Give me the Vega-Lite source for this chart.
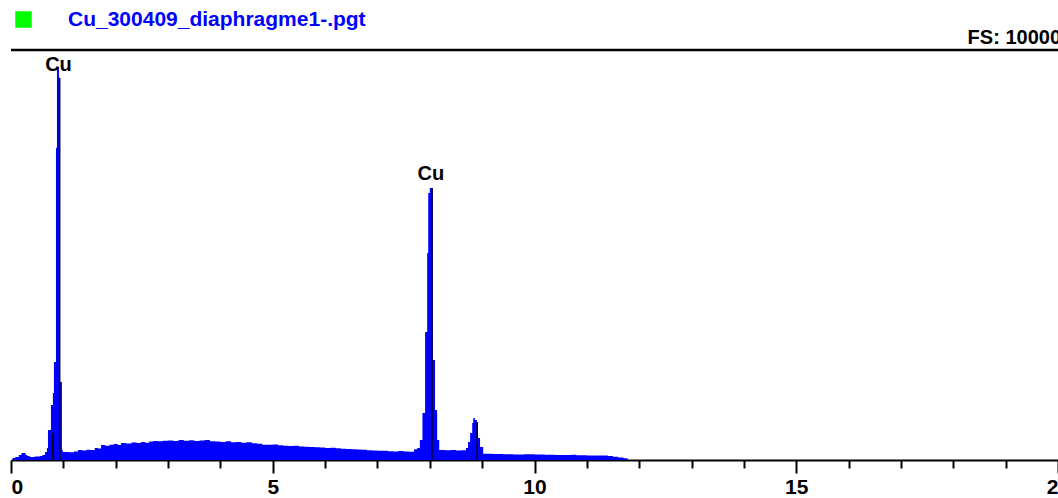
{
  "$schema": "https://vega.github.io/schema/vega-lite/v6.json",
  "width": 1047,
  "height": 410,
  "autosize": {"type": "none"},
  "padding": {"left": 11, "top": 50, "right": 0, "bottom": 38},
  "background": "white",
  "config": {"view": {"stroke": null}},
  "datasets": {
    "spectrum": [
      {"e": 0.0, "c": 0}, {"e": 0.03, "c": 49}, {"e": 0.08, "c": 73}, {"e": 0.15, "c": 122},
      {"e": 0.2, "c": 171}, {"e": 0.28, "c": 122}, {"e": 0.31, "c": 98}, {"e": 0.36, "c": 73},
      {"e": 0.45, "c": 85}, {"e": 0.55, "c": 98}, {"e": 0.6, "c": 122}, {"e": 0.65, "c": 195},
      {"e": 0.687, "c": 293}, {"e": 0.706, "c": 732}, {"e": 0.763, "c": 1342}, {"e": 0.8, "c": 1635},
      {"e": 0.82, "c": 2391}, {"e": 0.859, "c": 7613}, {"e": 0.878, "c": 9565}, {"e": 0.916, "c": 9321},
      {"e": 0.935, "c": 1903}, {"e": 0.973, "c": 244}, {"e": 0.99, "c": 195},
      {"e": 1.1, "c": 190}, {"e": 1.2, "c": 205}, {"e": 1.28, "c": 244}, {"e": 1.36, "c": 230},
      {"e": 1.44, "c": 250}, {"e": 1.52, "c": 244}, {"e": 1.6, "c": 293}, {"e": 1.66, "c": 280},
      {"e": 1.72, "c": 366}, {"e": 1.8, "c": 350}, {"e": 1.88, "c": 370}, {"e": 1.96, "c": 390},
      {"e": 2.04, "c": 366}, {"e": 2.1, "c": 415}, {"e": 2.2, "c": 400}, {"e": 2.3, "c": 425},
      {"e": 2.4, "c": 415}, {"e": 2.48, "c": 440}, {"e": 2.56, "c": 420}, {"e": 2.64, "c": 450},
      {"e": 2.72, "c": 463}, {"e": 2.8, "c": 455}, {"e": 2.9, "c": 470}, {"e": 3.0, "c": 475},
      {"e": 3.1, "c": 463}, {"e": 3.2, "c": 488}, {"e": 3.3, "c": 470}, {"e": 3.4, "c": 480},
      {"e": 3.5, "c": 463}, {"e": 3.6, "c": 475}, {"e": 3.7, "c": 488}, {"e": 3.8, "c": 460},
      {"e": 3.9, "c": 450}, {"e": 4.0, "c": 440}, {"e": 4.1, "c": 455}, {"e": 4.2, "c": 435},
      {"e": 4.3, "c": 440}, {"e": 4.4, "c": 420}, {"e": 4.5, "c": 430}, {"e": 4.6, "c": 410},
      {"e": 4.7, "c": 395}, {"e": 4.8, "c": 375}, {"e": 4.9, "c": 370}, {"e": 5.0, "c": 380},
      {"e": 5.1, "c": 360}, {"e": 5.2, "c": 350}, {"e": 5.3, "c": 342}, {"e": 5.4, "c": 345},
      {"e": 5.5, "c": 330}, {"e": 5.6, "c": 325}, {"e": 5.7, "c": 320}, {"e": 5.8, "c": 310},
      {"e": 5.9, "c": 305}, {"e": 6.0, "c": 293}, {"e": 6.1, "c": 300}, {"e": 6.2, "c": 285},
      {"e": 6.3, "c": 275}, {"e": 6.4, "c": 270}, {"e": 6.5, "c": 265}, {"e": 6.6, "c": 255},
      {"e": 6.7, "c": 250}, {"e": 6.8, "c": 240}, {"e": 6.9, "c": 230}, {"e": 7.0, "c": 225},
      {"e": 7.1, "c": 228}, {"e": 7.2, "c": 215}, {"e": 7.3, "c": 210}, {"e": 7.4, "c": 220},
      {"e": 7.5, "c": 205}, {"e": 7.6, "c": 200}, {"e": 7.7, "c": 260}, {"e": 7.76, "c": 293},
      {"e": 7.81, "c": 488}, {"e": 7.86, "c": 1147}, {"e": 7.91, "c": 3123}, {"e": 7.95, "c": 5051},
      {"e": 7.97, "c": 6515}, {"e": 8.0, "c": 6637}, {"e": 8.06, "c": 2440}, {"e": 8.1, "c": 1220},
      {"e": 8.14, "c": 488}, {"e": 8.18, "c": 244}, {"e": 8.3, "c": 235}, {"e": 8.4, "c": 244},
      {"e": 8.5, "c": 230}, {"e": 8.6, "c": 240}, {"e": 8.69, "c": 293}, {"e": 8.73, "c": 439},
      {"e": 8.77, "c": 659}, {"e": 8.81, "c": 903}, {"e": 8.83, "c": 1025}, {"e": 8.86, "c": 976},
      {"e": 8.9, "c": 900}, {"e": 8.92, "c": 537}, {"e": 8.96, "c": 317}, {"e": 9.02, "c": 150},
      {"e": 9.2, "c": 146}, {"e": 9.4, "c": 140}, {"e": 9.6, "c": 135}, {"e": 9.8, "c": 140},
      {"e": 10.0, "c": 132}, {"e": 10.2, "c": 128}, {"e": 10.4, "c": 125}, {"e": 10.6, "c": 120},
      {"e": 10.7, "c": 130}, {"e": 10.8, "c": 118}, {"e": 11.0, "c": 112}, {"e": 11.2, "c": 108},
      {"e": 11.4, "c": 95}, {"e": 11.5, "c": 80}, {"e": 11.6, "c": 60}, {"e": 11.7, "c": 40},
      {"e": 11.78, "c": 0}
    ],
    "markers": [
      {"e": 0.8, "base": 0, "top": 659},
      {"e": 0.93, "base": 0, "top": 9320},
      {"e": 8.04, "base": 0, "top": 6637},
      {"e": 8.905, "base": 0, "top": 927}
    ],
    "labels": [
      {"e": 0.907, "c": 9488, "t": "Cu"},
      {"e": 8.02, "c": 6829, "t": "Cu"}
    ],
    "fullscale": [{"e": 20, "fs": 10000, "t": "FS: 10000"}]
  },
  "layer": [
    {
      "data": {"name": "spectrum"},
      "mark": {"type": "area", "interpolate": "step-after", "fill": "#0000ff"},
      "encoding": {
        "x": {
          "field": "e",
          "type": "quantitative",
          "scale": {"domain": [0, 20], "nice": false, "zero": false},
          "axis": {
            "values": [0,1,2,3,4,5,6,7,8,9,10,11,12,13,14,15,16,17,18,19,20],
            "title": null,
            "grid": false,
            "domainColor": "black",
            "domainWidth": 2,
            "tickColor": "black",
            "tickWidth": 2,
            "tickSize": {"condition": {"test": "datum.value % 5 == 0", "value": 13}, "value": 8},
            "labelExpr": "datum.value % 5 == 0 ? datum.label : ''",
            "labelFont": "Liberation Sans",
            "labelFontWeight": "bold",
            "labelFontSize": 21,
            "labelColor": "black",
            "labelAlign": {"condition": {"test": "datum.value == 0", "value": "left"}, "value": "center"},
            "labelPadding": 3,
            "labelOverlap": false,
            "labelBound": false,
            "labelFlush": false
          }
        },
        "y": {
          "field": "c",
          "type": "quantitative",
          "stack": null,
          "scale": {"domain": [0, 10000], "nice": false},
          "axis": null
        },
        "color": {
          "datum": "Cu_300409_diaphragme1-.pgt",
          "type": "nominal",
          "scale": {"range": ["#00ff00"]},
          "legend": {
            "orient": "none",
            "legendX": 2,
            "legendY": -41,
            "title": null,
            "symbolType": "square",
            "symbolSize": 272,
            "symbolStrokeWidth": 0,
            "symbolOpacity": 1,
            "labelFont": "Liberation Sans",
            "labelFontWeight": "bold",
            "labelFontSize": 21,
            "labelColor": "#0000ff",
            "labelOffset": 34,
            "labelLimit": 1000,
            "padding": 0
          }
        }
      }
    },
    {
      "data": {"name": "markers"},
      "mark": {"type": "rule", "color": "black", "strokeWidth": 1.5},
      "encoding": {
        "x": {"field": "e", "type": "quantitative"},
        "y": {"field": "base", "type": "quantitative"},
        "y2": {"field": "top"}
      }
    },
    {
      "data": {"name": "fullscale"},
      "mark": {"type": "rule", "color": "black", "strokeWidth": 2.5},
      "encoding": {"y": {"field": "fs", "type": "quantitative"}}
    },
    {
      "data": {"name": "labels"},
      "mark": {"type": "text", "font": "Liberation Sans", "fontWeight": "bold", "fontSize": 20, "color": "black", "align": "center", "baseline": "alphabetic"},
      "encoding": {
        "x": {"field": "e", "type": "quantitative"},
        "y": {"field": "c", "type": "quantitative"},
        "text": {"field": "t"}
      }
    },
    {
      "data": {"name": "fullscale"},
      "mark": {"type": "text", "font": "Liberation Sans", "fontWeight": "bold", "fontSize": 20, "color": "black", "align": "right", "baseline": "alphabetic", "dx": 3, "dy": -6},
      "encoding": {
        "x": {"field": "e", "type": "quantitative"},
        "y": {"field": "fs", "type": "quantitative"},
        "text": {"field": "t"}
      }
    }
  ]
}
